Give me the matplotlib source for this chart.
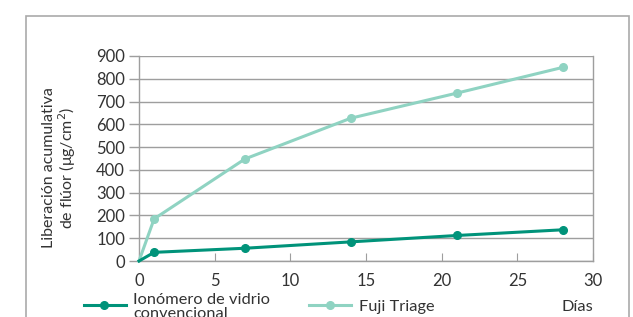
import matplotlib
matplotlib.use('Agg')
import matplotlib.pyplot as plt
from matplotlib.lines import Line2D
from matplotlib.patches import Rectangle

plt.rcParams['font.family'] = ['Lato', 'DejaVu Sans']

dias = [0, 1, 7, 14, 21, 28]
ionomero = [0, 38, 56, 84, 112, 137]
fuji = [0, 185, 448, 627, 737, 850]

label_ion = 'Ionómero de vidrio\nconvencional'
label_fuji = 'Fuji Triage'
col_ion = '#00937a'
col_fuji = '#8fd3c2'
gris = '#9e9e9e'
texto = '#333333'

W, H = 633, 317
fig = plt.figure(figsize=(W / 100, H / 100), dpi=100)
ax = fig.add_axes([139 / W, 1 - 261 / H, (593 - 139) / W, (261 - 56) / H])

# marco exterior
fig.patches.append(Rectangle((26 / W, -0.2), (629 - 26) / W, 1.2 - 16 / H,
                             transform=fig.transFigure, fill=False,
                             edgecolor='#aaaaaa', lw=1.2))

# sin marcador en el origen
marcas = list(range(1, len(dias)))
ax.plot(dias, fuji, color=col_fuji, lw=2.2, marker='o', ms=5.5, markevery=marcas,
        clip_on=False, zorder=3)
ax.plot(dias, ionomero, color=col_ion, lw=2.2, marker='o', ms=5.5, markevery=marcas,
        clip_on=False, zorder=4)

ax.set_xlim(0, 30)
ax.set_ylim(0, 900)
ax.set_xticks(range(0, 31, 5))
ax.set_yticks(range(0, 901, 100))
ax.yaxis.grid(True, color=gris, lw=1)
ax.set_axisbelow(True)
for s in ax.spines.values():
    s.set_color(gris)
    s.set_linewidth(1)
ax.spines['top'].set_visible(False)
ax.tick_params(axis='x', direction='in', length=6, color=gris, labelsize=12, pad=9, labelcolor=texto)
ax.tick_params(axis='y', direction='out', length=7, color=gris, width=1, labelsize=12, pad=3, labelcolor=texto)

fig.text(60 / W, 1 - 168 / H, 'Liberación acumulativa\nde flúor (μg/cm$^2$)',
         rotation=90, ha='center', va='center', fontsize=11.5, color=texto,
         linespacing=1.0)

# leyenda
ly = 1 - 305 / H
fig.lines.append(Line2D([84 / W, 126 / W], [ly, ly], transform=fig.transFigure,
                        color=col_ion, lw=2.2))
fig.lines.append(Line2D([104 / W], [ly], transform=fig.transFigure, color=col_ion,
                        marker='o', ms=5.5))
fig.text(133 / W, 1 - 307 / H, label_ion, ha='left', va='center', fontsize=11.8,
         color=texto, linespacing=1.0)
fig.lines.append(Line2D([309 / W, 351 / W], [ly, ly], transform=fig.transFigure,
                        color=col_fuji, lw=2.2))
fig.lines.append(Line2D([330 / W], [ly], transform=fig.transFigure, color=col_fuji,
                        marker='o', ms=5.5))
fig.text(359 / W, 1 - 307 / H, label_fuji, ha='left', va='center', fontsize=11.8, color=texto)
fig.text(593 / W, 1 - 307 / H, 'Días', ha='right', va='center', fontsize=11.8, color=texto)

fig.savefig('out.png', dpi=100)
